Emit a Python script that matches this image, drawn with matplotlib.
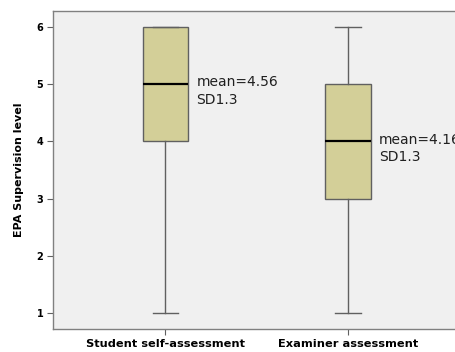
import matplotlib as mpl
mpl.use('Agg')
import matplotlib.pyplot as plt

# box plot summary per group
GROUPS = ["Student self-assessment", "Examiner assessment"]
WHISK_LO = [1, 1]
Q1 = [4, 3]
MEDIAN = [5, 4]
Q3 = [6, 5]
WHISK_HI = [6, 6]
MEANS = [4.56, 4.16]
SDS = [1.3, 1.3]

BOX_COLOR = '#d3cf98'
BG_COLOR = '#f0f0f0'
EDGE = '#606060'

fig = plt.figure(figsize=(4.56, 3.52), dpi=100)
ax = fig.add_axes([53/456, 23/352, 1 - 53/456, 318/352])
ax.set_facecolor(BG_COLOR)

stats = []
for i, g in enumerate(GROUPS):
    stats.append(dict(label=g, whislo=WHISK_LO[i], q1=Q1[i], med=MEDIAN[i],
                      q3=Q3[i], whishi=WHISK_HI[i], fliers=[]))

ax.bxp(stats, positions=[1, 2], widths=0.25, patch_artist=True,
       boxprops=dict(facecolor=BOX_COLOR, edgecolor=EDGE, linewidth=1.0),
       medianprops=dict(color='black', linewidth=1.6),
       whiskerprops=dict(color=EDGE, linewidth=1.0),
       capprops=dict(color=EDGE, linewidth=1.0),
       capwidths=0.14, showfliers=False)

# mean / SD note beside each box (the second one runs off the right edge)
for i in range(len(GROUPS)):
    ax.text(i + 1 + 0.17, MEDIAN[i] - 0.12,
            "mean=%.2f\nSD%.1f" % (MEANS[i], SDS[i]),
            ha='left', va='center', fontsize=10, color='#202020',
            linespacing=1.3)

ax.set_xlim(0.385, 2.59)
ax.set_ylim(0.72, 6.28)
ax.set_yticks([1, 2, 3, 4, 5, 6])
ax.set_xticks([1, 2])
ax.set_xticklabels(GROUPS, fontsize=8.2, fontweight='bold')
for lab in ax.get_yticklabels():
    lab.set_fontsize(7)
    lab.set_fontweight('bold')
ax.tick_params(axis='both', length=4, color=EDGE, width=0.8, pad=3)
ax.set_ylabel("EPA Supervision level", fontsize=8, fontweight='bold', labelpad=9)

for s in ax.spines.values():
    s.set_color('#808080')
    s.set_linewidth(1.0)
ax.spines['right'].set_visible(False)

plt.savefig('out.png', dpi=100, facecolor='white')
plt.close()
